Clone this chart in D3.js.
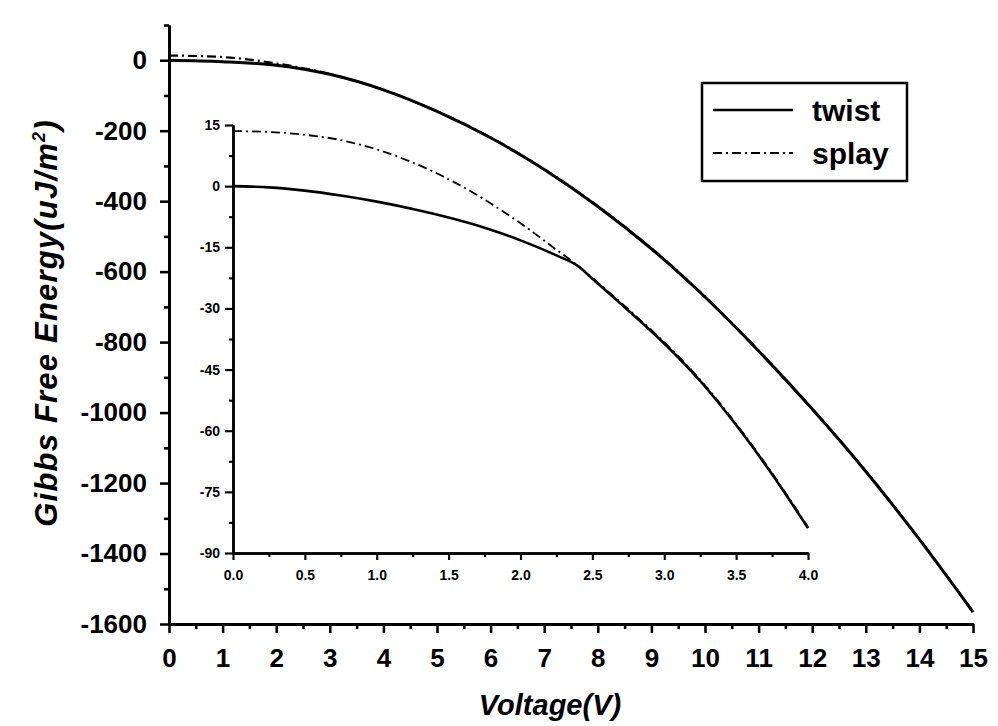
<!DOCTYPE html>
<html><head><meta charset="utf-8">
<script src="https://cdn.jsdelivr.net/npm/d3@7"></script>
<style>
body{margin:0;background:#fff;}
text{font-family:"Liberation Sans",Arial,sans-serif;font-weight:bold;fill:#000;}
</style></head>
<body><svg id="c" width="998" height="726"></svg>
<script>
// ---- data ----
const mainV      = [0,1,2,3,4,5,6,7,8,9,10,11,12,13,14,15];
const mainTwist  = [0,-4,-14,-40,-84,-145,-220,-310,-415,-535,-672,-825,-990,-1167,-1360,-1566];
const mainSplay  = [13.5,9,-9,-39,-84,-145,-219,-309,-414,-534,-671,-824,-989,-1166,-1359,-1565];
const insetV     = [0,0.25,0.5,0.75,1.0,1.25,1.5,1.75,2.0,2.25,2.4,2.5,2.75,3.0,3.25,3.5,3.75,4.0];
const insetTwist = [0,-0.3,-1.1,-2.3,-3.8,-5.6,-7.7,-10.2,-13.3,-17.0,-19.6,-22.7,-30.5,-38.6,-47.8,-58.6,-70.7,-83.9];
const insetSplay = [13.5,13.3,12.6,11.3,9.0,5.8,1.7,-3.3,-9.1,-15.6,-19.5,-22.5,-30.2,-38.3,-47.5,-58.3,-70.4,-83.6];
const mainXTicks = d3.range(0,16,1);
const mainYTicks = d3.range(-1600,1,200);
const insetXTicks = [0,0.5,1.0,1.5,2.0,2.5,3.0,3.5,4.0];
const insetYTicks = [15,0,-15,-30,-45,-60,-75,-90];
const seriesNames = ["twist","splay"];

const svg = d3.select("#c");

// ---- main scales ----
const x = d3.scaleLinear().domain([0,15]).range([169,973]);
const y = d3.scaleLinear().domain([-1600,100]).range([624,25]);

function styleAxis(g, w){
  g.select(".domain").attr("stroke","#000").attr("stroke-width",w);
  g.selectAll(".tick line").attr("stroke","#000").attr("stroke-width",w*0.85);
}

// main x axis
const gxm = svg.append("g").attr("transform","translate(0,624)")
  .call(d3.axisBottom(x).tickValues(d3.range(0.5,15,1)).tickSize(5).tickFormat("").tickSizeOuter(0));
styleAxis(gxm,3);
const gx = svg.append("g").attr("transform","translate(0,624)")
  .call(d3.axisBottom(x).tickValues(mainXTicks).tickSize(9).tickPadding(16).tickFormat(d3.format("d")).tickSizeOuter(0));
styleAxis(gx,3);
gx.selectAll("text").style("font-size","26px").attr("fill","#000");

// main y axis
const gym = svg.append("g").attr("transform","translate(169,0)")
  .call(d3.axisLeft(y).tickValues(d3.range(-1500,101,200)).tickSize(5).tickFormat("").tickSizeOuter(0));
styleAxis(gym,3);
const gy = svg.append("g").attr("transform","translate(169,0)")
  .call(d3.axisLeft(y).tickValues(mainYTicks).tickSize(9).tickPadding(13).tickFormat(d3.format("d")).tickSizeOuter(0));
styleAxis(gy,3);
gy.selectAll("text").style("font-size","26px").attr("fill","#000").text(d=>d<0?"-"+Math.abs(d):d);

// axis titles
svg.append("text").attr("x",550).attr("y",715).attr("text-anchor","middle")
  .style("font-size","29px").style("font-style","italic").text("Voltage(V)");
const yl = svg.append("text").attr("transform","translate(57,323) rotate(-90)").attr("text-anchor","middle")
  .style("font-size","31px").style("font-style","italic").style("letter-spacing","1.2px");
yl.append("tspan").text("Gibbs Free Energy(uJ/m");
yl.append("tspan").attr("dy","-12").style("font-size","18px").text("2");
yl.append("tspan").attr("dy","12").text(")");

// main lines
const lineMain = (vals)=> d3.line().x((d,i)=>x(mainV[i])).y((d,i)=>y(vals[i])).curve(d3.curveMonotoneX)(vals);
svg.append("path").attr("d",lineMain(mainTwist)).attr("fill","none").attr("stroke","#000").attr("stroke-width",3);
svg.append("path").attr("d",lineMain(mainSplay)).attr("fill","none").attr("stroke","#000").attr("stroke-width",2.2).attr("stroke-dasharray","9,4,2,4");

// ---- inset ----
const xi = d3.scaleLinear().domain([0,4]).range([233,808]);
const yi = d3.scaleLinear().domain([-90,15]).range([553,125]);

const gxim = svg.append("g").attr("transform","translate(0,553)")
  .call(d3.axisBottom(xi).tickValues(d3.range(0.25,4,0.5)).tickSize(4).tickFormat("").tickSizeOuter(0));
styleAxis(gxim,2.5);
const gxi = svg.append("g").attr("transform","translate(0,553)")
  .call(d3.axisBottom(xi).tickValues(insetXTicks).tickSize(7).tickPadding(10).tickFormat(d3.format(".1f")).tickSizeOuter(0));
styleAxis(gxi,2.5);
gxi.selectAll("text").style("font-size","14px").attr("fill","#000");

const gyim = svg.append("g").attr("transform","translate(233,0)")
  .call(d3.axisLeft(yi).tickValues(d3.range(7.5,-90,-15)).tickSize(4).tickFormat("").tickSizeOuter(0));
styleAxis(gyim,2.5);
const gyi = svg.append("g").attr("transform","translate(233,0)")
  .call(d3.axisLeft(yi).tickValues(insetYTicks).tickSize(8).tickPadding(5).tickFormat(d3.format("d")).tickSizeOuter(0));
styleAxis(gyi,2.5);
gyi.selectAll("text").style("font-size","14px").attr("fill","#000").text(d=>d<0?"-"+Math.abs(d):d);

const lineInset = (vals)=> d3.line().x((d,i)=>xi(insetV[i])).y((d,i)=>yi(vals[i])).curve(d3.curveMonotoneX)(vals);
svg.append("path").attr("d",lineInset(insetTwist)).attr("fill","none").attr("stroke","#000").attr("stroke-width",2.6);
svg.append("path").attr("d",lineInset(insetSplay)).attr("fill","none").attr("stroke","#000").attr("stroke-width",1.8).attr("stroke-dasharray","9,4,2,4");

// ---- legend ----
const lg = svg.append("g");
lg.append("rect").attr("x",702).attr("y",83).attr("width",205).attr("height",98)
  .attr("fill","#fff").attr("stroke","#000").attr("stroke-width",2.5);
const lgY = [110,153];
seriesNames.forEach((n,i)=>{
  lg.append("line").attr("x1",713).attr("x2",793).attr("y1",lgY[i]).attr("y2",lgY[i])
    .attr("stroke","#000").attr("stroke-width",i===0?2.6:2.2).attr("stroke-dasharray",i===0?null:"9,4,2,4");
  lg.append("text").attr("x",812).attr("y",lgY[i]+11).style("font-size","30px").text(n);
});
</script></body></html>
